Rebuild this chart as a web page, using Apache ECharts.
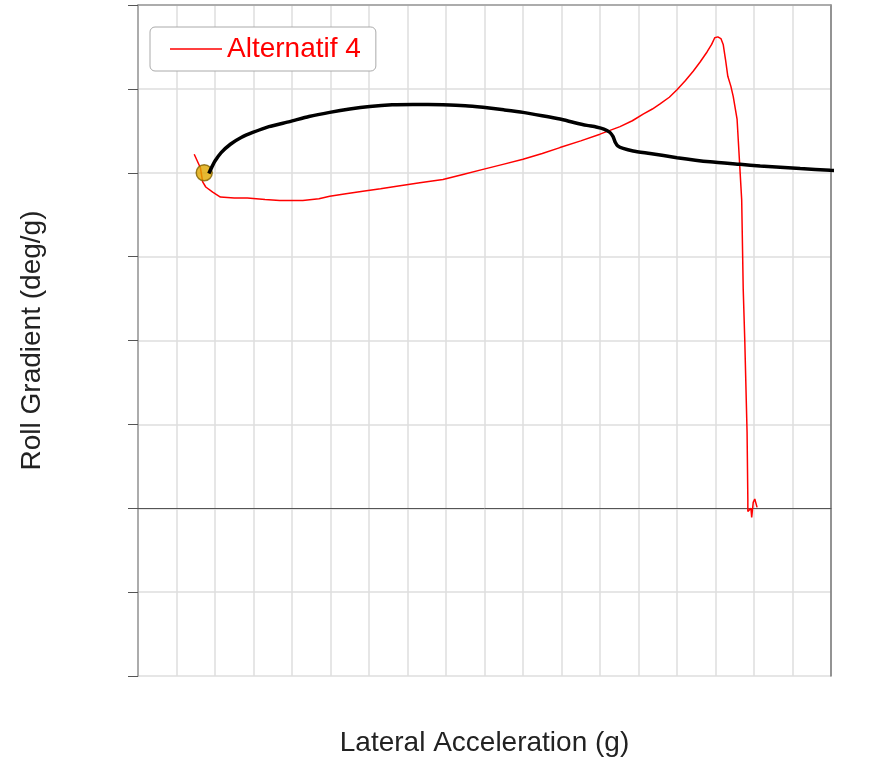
<!DOCTYPE html>
<html>
<head>
<meta charset="utf-8">
<script src="https://cdn.jsdelivr.net/npm/echarts@6/dist/echarts.min.js"></script>
<style>
html,body{margin:0;padding:0;background:#fff;}
#chart{width:884px;height:763px;}
</style>
</head>
<body>
<div id="chart"></div>
<script>
// Black reference curve (lateral acceleration g, roll gradient deg/g)
const blackX = [0.092,0.096,0.100,0.108,0.120,0.134,0.149,0.170,0.197,0.222,0.249,0.275,0.301,0.330,0.357,0.396,0.425,0.448,0.475,0.500,0.525,0.548,0.566,0.583,0.595,0.605,0.613,0.617,0.620,0.623,0.630,0.643,0.665,0.700,0.743,0.782,0.808,0.860,0.899,0.969];
const blackY = [3.99,4.07,4.14,4.24,4.34,4.42,4.48,4.55,4.61,4.67,4.72,4.76,4.79,4.81,4.815,4.81,4.80,4.78,4.75,4.72,4.68,4.64,4.60,4.565,4.545,4.52,4.48,4.43,4.36,4.32,4.29,4.26,4.23,4.18,4.13,4.10,4.08,4.05,4.03,4.005];
// Red series "Alternatif 4"
const redName = 'Alternatif 4';
const redX = [0.073,0.077,0.081,0.084,0.088,0.097,0.107,0.125,0.142,0.165,0.184,0.214,0.235,0.249,0.270,0.292,0.315,0.336,0.366,0.396,0.422,0.448,0.474,0.500,0.525,0.548,0.575,0.600,0.626,0.642,0.656,0.668,0.678,0.690,0.700,0.711,0.721,0.730,0.739,0.745,0.749,0.753,0.757,0.760,0.763,0.766,0.770,0.773,0.778,0.781,0.784,0.786,0.788,0.791,0.792,0.792,0.796,0.797,0.799,0.801,0.804];
const redY = [4.22,4.14,4.06,3.89,3.83,3.77,3.71,3.70,3.70,3.68,3.67,3.67,3.69,3.72,3.75,3.78,3.81,3.84,3.88,3.92,3.98,4.04,4.10,4.16,4.23,4.30,4.38,4.46,4.55,4.62,4.70,4.76,4.82,4.90,4.99,5.10,5.21,5.32,5.44,5.53,5.61,5.62,5.60,5.53,5.35,5.15,5.03,4.91,4.64,4.16,3.68,2.61,2.01,0.91,0.11,-0.04,0.00,-0.11,0.07,0.11,0.01];
// Starting point marker
const markerX = [0.086];
const markerY = [4.0];
// Axes
const xMin = 0, xMax = 0.9, xStep = 0.05;
const yMin = -2, yMax = 6, yStep = 1;
const xTitle = 'Lateral Acceleration (g)';
const yTitle = 'Roll Gradient (deg/g)';

const zip = (a, b) => a.map((v, i) => [v, b[i]]);
const font = 'Liberation Sans, Arial, sans-serif';

const chart = echarts.init(document.getElementById('chart'));
chart.setOption({
  animation: false,
  backgroundColor: '#fff',
  grid: { left: 138, top: 5, right: 53, bottom: 87, containLabel: false },
  legend: {
    data: [{ name: redName, icon: 'rect' }],
    left: 150, top: 27,
    padding: [8, 15, 8, 20],
    itemWidth: 52, itemHeight: 1.5, itemGap: 6,
    borderColor: '#aaa', borderWidth: 1, borderRadius: 5,
    backgroundColor: '#fff',
    textStyle: { color: '#ff0000', fontSize: 28, fontFamily: font, lineHeight: 28 }
  },
  xAxis: [{
    type: 'value', min: xMin, max: xMax, interval: xStep,
    name: xTitle, nameLocation: 'middle', nameGap: 53,
    nameTextStyle: { color: '#222', fontSize: 28, fontFamily: font },
    axisLine: { show: true, onZero: true, lineStyle: { color: '#555', width: 1 } },
    axisTick: { show: false }, axisLabel: { show: false },
    splitLine: { show: true, lineStyle: { color: '#dedede', width: 1.5 } }
  }, {
    type: 'value', position: 'top', min: xMin, max: xMax, interval: xStep,
    axisLine: { show: true, onZero: false, lineStyle: { color: '#999', width: 1.5 } },
    axisTick: { show: false }, axisLabel: { show: false }, splitLine: { show: false }
  }],
  yAxis: [{
    type: 'value', min: yMin, max: yMax, interval: yStep,
    name: yTitle, nameLocation: 'middle', nameGap: 92,
    nameTextStyle: { color: '#222', fontSize: 28, fontFamily: font },
    axisLine: { show: true, onZero: false, lineStyle: { color: '#999', width: 1.5 } },
    axisTick: { show: true, length: 10, lineStyle: { color: '#555', width: 1 } },
    axisLabel: { show: false },
    splitLine: { show: true, lineStyle: { color: '#dedede', width: 1.5 } }
  }, {
    type: 'value', position: 'right', min: yMin, max: yMax, interval: yStep,
    axisLine: { show: true, onZero: false, lineStyle: { color: '#777', width: 1.5 } },
    axisTick: { show: false }, axisLabel: { show: false }, splitLine: { show: false }
  }],
  series: [{
    name: redName, type: 'line', data: zip(redX, redY),
    symbol: 'none', smooth: false, z: 3,
    lineStyle: { color: '#ff0000', width: 1.5 },
    itemStyle: { color: '#ff0000' }
  }, {
    name: 'start', type: 'scatter', data: zip(markerX, markerY),
    symbolSize: 16, z: 4,
    itemStyle: { color: '#e0a800', borderColor: '#806000', borderWidth: 1.5 }
  }, {
    name: 'reference', type: 'line', data: zip(blackX, blackY),
    symbol: 'none', smooth: 0.2, clip: false, z: 5,
    lineStyle: { color: '#000', width: 3.5 }
  }]
});
</script>
</body>
</html>
